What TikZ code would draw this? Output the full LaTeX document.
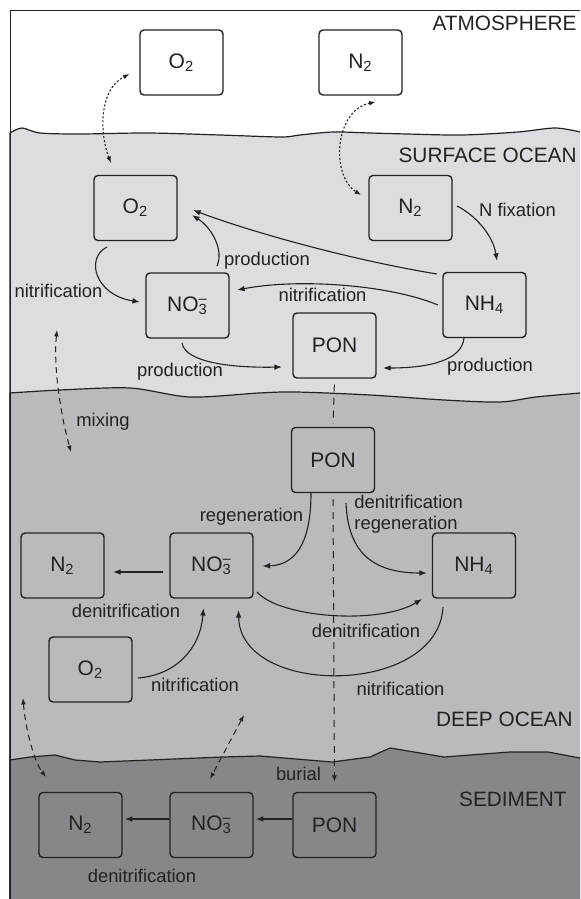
\documentclass[tikz,border=0pt]{standalone}
\usepackage{fontspec}
\setmainfont{Liberation Sans}
\usepackage{tikz}
\usetikzlibrary{arrows.meta}
\usetikzlibrary{calc}
\definecolor{ink}{rgb}{0.14, 0.13, 0.13}
\definecolor{surfgrey}{rgb}{0.863, 0.867, 0.878}
\definecolor{deepgrey}{rgb}{0.725, 0.729, 0.741}
\definecolor{sedgrey}{rgb}{0.525, 0.529, 0.541}
\newcommand{\nitrate}{NO\rlap{\textsuperscript{--}}\textsubscript{3}}

\begin{document}
\begin{tikzpicture}[x=0.5pt,y=-0.5pt]
	\tikzstyle{pool} = [draw=ink, line width=0.7pt, rounded corners=2pt, minimum width=41.5pt, minimum height=32.5pt, inner sep=0pt, font=\fontsize{10.5}{12}\selectfont, text=ink]
	\tikzstyle{flow} = [-{Latex[length=3.8pt,width=2.8pt]}, line width=0.55pt, draw=ink]
	\tikzstyle{gas} = [{Latex[length=3.2pt,width=2.4pt]}-{Latex[length=3.2pt,width=2.4pt]}, line width=0.55pt, draw=ink, dash pattern=on 1pt off 1pt]
	\tikzstyle{mixarrow} = [{Latex[length=3.2pt,width=2.4pt]}-{Latex[length=3.2pt,width=2.4pt]}, line width=0.5pt, draw=ink, dash pattern=on 3pt off 2.2pt]
	\tikzstyle{lbl} = [font=\fontsize{9.2}{10.5}\selectfont, text=ink, inner sep=0pt]
	\tikzstyle{layer} = [font=\fontsize{10.4}{12}\selectfont, text=ink, inner sep=0pt, anchor=east]

	\useasboundingbox (0,0) rectangle (580,899);
	\clip (0,0) rectangle (580,899);
	\fill[white] (0,0) rectangle (580,899);

	% Layers of the ocean
	\filldraw[fill=surfgrey, draw=ink, line width=0.6pt] (10,905) -- plot[smooth] coordinates {(10,133) (22,128) (40,133) (80,134) (148,133) (220,135) (281,137) (300,135) (333,132) (370,133) (407,134) (462,135) (518,132) (555,128) (580,132)} -- (590,132) -- (590,905) -- cycle;
	\filldraw[fill=deepgrey, draw=ink, line width=0.6pt] (10,905) -- plot[smooth] coordinates {(10,393) (60,390) (130,388) (190,397) (259,393) (296,392) (370,395) (444,400) (500,402) (536,397) (580,393)} -- (590,393) -- (590,905) -- cycle;
	\filldraw[fill=sedgrey, draw=ink, line width=0.6pt] (10,905) -- (10,760) -- (30,757) -- (55,755) -- (75,760) -- (100,762) -- (150,760) -- (222,757) -- (260,756) -- (332,762) -- (370,757) -- (390,748) -- (444,757) -- (510,752) -- (548,752) -- (580,758) -- (590,758) -- (590,905) -- cycle;

	% Frame
	\draw[ink, line width=0.5pt] (10,905) -- (10,11) -- (590,11);

	% Layer names
	\node[layer] (atm) at (577,23) {ATMOSPHERE};
	\node[layer] (surf) at (577,155) {SURFACE OCEAN};
	\node[layer] (deep) at (573,719) {DEEP OCEAN};
	\node[layer] (sed) at (567,799) {SEDIMENT};

	% Pools
	\node (o2a) at (181.5,62.5) [pool] {O\textsubscript{2}};
	\node (n2a) at (360.5,62.5) [pool] {N\textsubscript{2}};
	\node (o2s) at (135.5,208) [pool] {O\textsubscript{2}};
	\node (n2s) at (410.5,208) [pool] {N\textsubscript{2}};
	\node (no3s) at (187.5,305.5) [pool] {\nitrate};
	\node (nh4s) at (484.5,305) [pool] {NH\textsubscript{4}};
	\node (pons) at (334.5,345.5) [pool] {PON};
	\node (pond) at (333,460) [pool] {PON};
	\node (no3d) at (211.5,565.5) [pool] {\nitrate};
	\node (n2d) at (62.5,565.5) [pool] {N\textsubscript{2}};
	\node (nh4d) at (474,565.5) [pool] {NH\textsubscript{4}};
	\node (o2d) at (90.5,669.5) [pool] {O\textsubscript{2}};
	\node (n2x) at (80.5,825) [pool] {N\textsubscript{2}};
	\node (no3x) at (211.5,825) [pool] {\nitrate};
	\node (ponx) at (334.5,825) [pool] {PON};

	% Free ends of the mixing arrows
	\coordinate (mixtop) at (57,330);
	\coordinate (mixbot) at (71,452);
	\coordinate (sedmixtop) at (23,698);
	\coordinate (sedmixbot) at (46,777);
	\coordinate (poretop) at (244,715);
	\coordinate (porebot) at (210,779);

	% Air-sea exchange
	\draw[gas] ($(o2s)+(-24.5,-45)$) .. controls (100,135) and (98,90) .. ($(o2a)+(-52,11.5)$);
	\draw[gas] ($(n2a)+(15,39.5)$) .. controls (335,110) and (330,175) .. ($(n2s)+(-49.5,-13)$);

	% Surface ocean
	\draw[flow] ($(n2s)+(46.5,-2)$) .. controls (475,215) and (493,235) .. ($(nh4s)+(12.5,-44)$);
	\draw[flow] ($(o2s)+(-28.5,39)$) .. controls (85,258) and (95,295) .. ($(no3s)+(-47.5,-3.5)$);
	\draw[flow] ($(no3s)+(29.5,-39.5)$) .. controls (224,250) and (212,228) .. ($(o2s)+(56.5,7)$);
	\draw[flow] ($(nh4s)+(-47.5,-31)$) .. controls (340,258) and (240,228) .. ($(o2s)+(57.5,2)$);
	\draw[flow] ($(nh4s)+(-46.5,0)$) .. controls (390,285) and (300,278) .. ($(no3s)+(49.5,-15.5)$);
	\draw[flow] ($(no3s)+(-5.5,37.5)$) .. controls (185,362) and (230,368) .. ($(pons)+(-52.5,21.5)$);
	\draw[flow] ($(nh4s)+(-20.5,33)$) .. controls (462,360) and (430,368) .. ($(pons)+(48.5,22.5)$);

	\node[lbl] (nfix) at (517.5,210) {N fixation};
	\node[lbl] (nitra) at (58.5,291) {nitrification};
	\node[lbl] (proda) at (267,261) {production};
	\node[lbl] (nitrb) at (322.5,295) {nitrification};
	\node[lbl] (prodb) at (180,372) {production};
	\node[lbl] (prodc) at (490,367) {production};

	% Sinking and mixing
	\draw[mixarrow] (mixtop) .. controls (53,370) and (62,420) .. (mixbot);
	\node[lbl] (mix) at (103,422) {mixing};
	\draw[ink, line width=0.5pt, dash pattern=on 3.5pt off 3pt, shorten <=3pt, shorten >=1.5pt] (pons.south) -- (pond.north);
	\draw[ink, line width=0.5pt, dash pattern=on 3.5pt off 3pt, shorten <=3pt, shorten >=5pt, -{Latex[length=3.2pt,width=2.4pt]}] (pond.south) -- (ponx.north);

	% Deep ocean
	\draw[flow] ($(pond)+(-22,33)$) .. controls (311,535) and (300,565) .. ($(no3d)+(51,0.5)$);
	\draw[flow] ($(pond)+(13,43)$) .. controls (348,550) and (370,573) .. ($(nh4d)+(-47,7.5)$);
	\draw[flow] ($(no3d)+(-48.5,6.5)$) -- ($(n2d)+(50.5,6.5)$);
	\draw[flow] ($(o2d)+(47.5,8.5)$) .. controls (175,675) and (200,650) .. ($(no3d)+(-8,42.5)$);
	\draw[flow] ($(no3d)+(45.5,26.5)$) .. controls (280,618) and (380,625) .. ($(nh4d)+(-52,33.5)$);
	\draw[flow] ($(nh4d)+(-31,41.5)$) .. controls (438,697) and (240,697) .. ($(no3d)+(27,44.5)$);

	\node[lbl] (regena) at (251.5,517) {regeneration};
	\node[lbl, align=left, anchor=west] (regenb) at (354,514) {denitrification\\regeneration};
	\node[lbl] (denita) at (126,611) {denitrification};
	\node[lbl] (nitrc) at (195,685) {nitrification};
	\node[lbl] (denitb) at (366,631) {denitrification};
	\node[lbl] (nitrd) at (400.5,689) {nitrification};

	% Sediment
	\draw[mixarrow] (sedmixtop) .. controls (25,725) and (33,760) .. (sedmixbot);
	\draw[mixarrow] (poretop) -- (porebot);
	\draw[flow] ($(ponx.west)+(0,-6)$) -- ($(no3x.east)+(2,-6)$);
	\draw[flow] ($(no3x.west)+(0,-6)$) -- ($(n2x.east)+(2,-6)$);

	\node[lbl] (burial) at (298.5,774) {burial};
	\node[lbl] (denitc) at (142,876) {denitrification};
\end{tikzpicture}
\end{document}
